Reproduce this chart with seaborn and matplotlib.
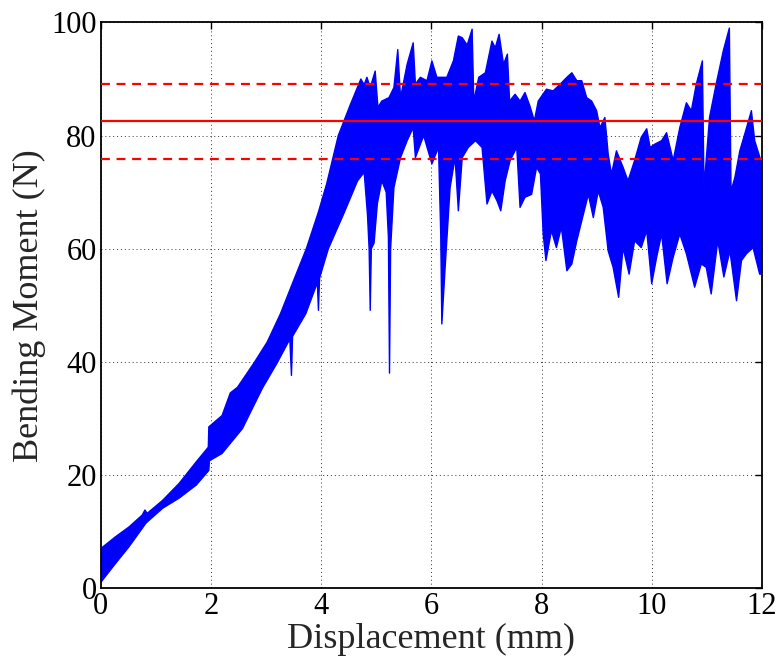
import numpy as np
import pandas as pd
import matplotlib
matplotlib.use("Agg")
import matplotlib.pyplot as plt
import seaborn as sns

# ---- data ----
# upper envelope of the oscillating bending-moment signal
upper_x = [0.00, 0.27, 0.51, 0.75, 0.80, 0.84, 1.12, 1.42, 1.73, 1.95, 1.96, 2.20, 2.35, 2.48,
           2.78, 3.02, 3.26, 3.50, 3.73, 3.95, 4.10, 4.31, 4.53, 4.72, 4.78, 4.83, 4.89, 4.98,
           5.03, 5.10, 5.23, 5.32, 5.39, 5.44, 5.56, 5.67, 5.71, 5.80, 5.92, 6.01, 6.10, 6.28,
           6.40, 6.49, 6.56, 6.65, 6.74, 6.77, 6.86, 6.98, 7.10, 7.16, 7.23, 7.31, 7.38, 7.42,
           7.52, 7.61, 7.70, 7.79, 7.87, 7.94, 8.09, 8.21, 8.34, 8.46, 8.55, 8.64, 8.73, 8.82,
           8.91, 9.00, 9.06, 9.15, 9.21, 9.27, 9.36, 9.48, 9.57, 9.69, 9.81, 9.91, 9.97, 10.06,
           10.18, 10.27, 10.39, 10.51, 10.63, 10.72, 10.81, 10.92, 10.95, 11.05, 11.17, 11.30,
           11.41, 11.44, 11.51, 11.60, 11.69, 11.81, 11.87, 12.00]
upper_y = [7.0, 9.1, 10.8, 12.9, 13.8, 13.2, 15.5, 18.5, 22.3, 24.9, 28.5, 30.5, 34.5, 35.5,
           39.8, 43.5, 48.5, 54.4, 60.0, 66.5, 71.5, 80.0, 85.5, 90.0, 89.0, 90.3, 88.5, 91.4,
           85.0, 86.1, 86.7, 88.5, 95.2, 86.7, 92.6, 96.4, 89.1, 90.3, 89.7, 93.2, 90.3, 90.3,
           93.2, 97.6, 97.3, 96.0, 98.8, 86.1, 90.3, 91.1, 96.7, 95.5, 97.9, 92.6, 94.4, 86.1,
           87.3, 86.1, 87.6, 85.2, 82.6, 86.1, 88.2, 87.9, 89.1, 90.3, 91.1, 89.7, 89.7, 86.7,
           86.1, 84.4, 81.4, 83.2, 76.7, 73.2, 77.3, 74.4, 72.0, 75.6, 79.7, 81.2, 77.9, 78.5,
           79.1, 80.5, 75.6, 81.4, 85.8, 84.4, 89.1, 93.2, 70.8, 83.2, 89.1, 95.0,
           99.0, 70.2, 72.6, 77.3, 80.3, 84.4, 79.1, 75.0]

# lower envelope (including the downward spikes)
lower_x = [0.00, 0.03, 0.27, 0.51, 0.82, 1.12, 1.42, 1.73, 1.96, 1.97, 2.20, 2.57, 2.93, 3.20,
           3.43, 3.46, 3.48, 3.72, 3.93, 3.95, 3.97, 4.13, 4.41, 4.66, 4.78, 4.84, 4.87, 4.89,
           4.91, 4.96, 5.02, 5.10, 5.18, 5.22, 5.24, 5.26, 5.32, 5.44, 5.56, 5.67, 5.71, 5.86,
           6.01, 6.13, 6.17, 6.19, 6.25, 6.34, 6.43, 6.49, 6.56, 6.67, 6.80, 6.92, 7.01, 7.10,
           7.19, 7.26, 7.34, 7.43, 7.55, 7.61, 7.70, 7.82, 7.91, 7.98, 8.03, 8.08, 8.18, 8.27,
           8.36, 8.46, 8.55, 8.64, 8.76, 8.85, 8.94, 9.03, 9.12, 9.21, 9.30, 9.40, 9.48, 9.59,
           9.69, 9.81, 9.91, 10.00, 10.09, 10.18, 10.28, 10.39, 10.51, 10.63, 10.78, 10.90,
           10.99, 11.08, 11.20, 11.31, 11.42, 11.54, 11.63, 11.72, 11.84, 11.96, 12.00]
lower_y = [1.0, 1.4, 4.4, 7.3, 11.5, 14.1, 15.9, 18.2, 20.8, 22.5, 23.8, 28.2, 35.3, 39.8,
           44.0, 37.6, 44.5, 48.5, 54.0, 49.1, 54.8, 60.0, 66.2, 72.0, 73.5, 66.0, 60.0, 49.1,
           60.0, 61.0, 68.0, 72.0, 70.0, 62.0, 38.0, 60.0, 70.8, 76.1, 79.1, 81.4, 76.1, 80.0,
           75.0, 77.9, 62.6, 46.7, 56.7, 70.8, 76.1, 66.7, 76.1, 77.9, 79.1, 77.9, 67.9, 70.2,
           68.5, 66.7, 72.0, 75.6, 77.9, 67.3, 69.1, 69.6, 74.4, 73.2, 62.6, 57.9, 63.2, 60.2,
           63.8, 56.1, 57.3, 61.4, 66.1, 69.6, 65.5, 70.2, 67.3, 59.6, 56.7, 51.4, 60.2, 55.5,
           61.4, 60.2, 63.2, 53.8, 58.5, 62.6, 53.8, 58.5, 62.6, 59.1, 53.2, 57.3,
           56.7, 52.0, 61.4, 55.0, 59.6, 50.8, 57.9, 59.1, 60.2, 55.5, 55.5]

mean_level = 82.6
band_upper = 89.2
band_lower = 75.9

x_ticks = [0, 2, 4, 6, 8, 10, 12]
y_ticks = [0, 20, 40, 60, 80, 100]

# ---- style ----
sns.set_style("white")
plt.rcParams["font.family"] = ["Liberation Serif", "DejaVu Serif"]

fig = plt.figure(figsize=(7.79, 6.60), dpi=100)
ax = fig.add_axes([0.1295, 0.109, 0.8485, 0.857])

up = pd.DataFrame({"x": upper_x, "y": upper_y})
lo = pd.DataFrame({"x": lower_x, "y": lower_y})

poly_x = np.r_[up["x"].values, lo["x"].values[::-1]]
poly_y = np.r_[up["y"].values, lo["y"].values[::-1]]
ax.fill(poly_x, poly_y, color="#0000ff", lw=0, zorder=2)
sns.lineplot(data=up, x="x", y="y", ax=ax, color="#0000ff", lw=1.0, sort=False,
             estimator=None, zorder=2)
sns.lineplot(data=lo, x="x", y="y", ax=ax, color="#0000ff", lw=1.0, sort=False,
             estimator=None, zorder=2)

ax.axhline(mean_level, color="#ff0000", lw=1.6, zorder=3)
ax.axhline(band_upper, color="#ff0000", lw=1.6, ls=(0, (4, 3)), zorder=3)
ax.axhline(band_lower, color="#ff0000", lw=1.6, ls=(0, (4, 3)), zorder=3)

ax.set_xlim(0, 12)
ax.set_ylim(0, 100)
ax.set_xticks(x_ticks)
ax.set_yticks(y_ticks)
ax.set_xticklabels([str(t) for t in x_ticks])
ax.set_yticklabels([str(t) for t in y_ticks])
ax.grid(True, color="black", ls=(0, (1, 3)), lw=0.7, alpha=0.8)
ax.set_axisbelow(True)

ax.tick_params(direction="in", length=5, width=1.0, top=True, right=True,
               labelsize=22, pad=3, colors="black")
for s in ax.spines.values():
    s.set_visible(True)
    s.set_color("black")
    s.set_linewidth(1.3)

ax.set_xlabel("Displacement (mm)", fontsize=26, labelpad=1)
ax.set_ylabel("Bending Moment (N)", fontsize=26, labelpad=4)

fig.savefig("out.png", dpi=100)
